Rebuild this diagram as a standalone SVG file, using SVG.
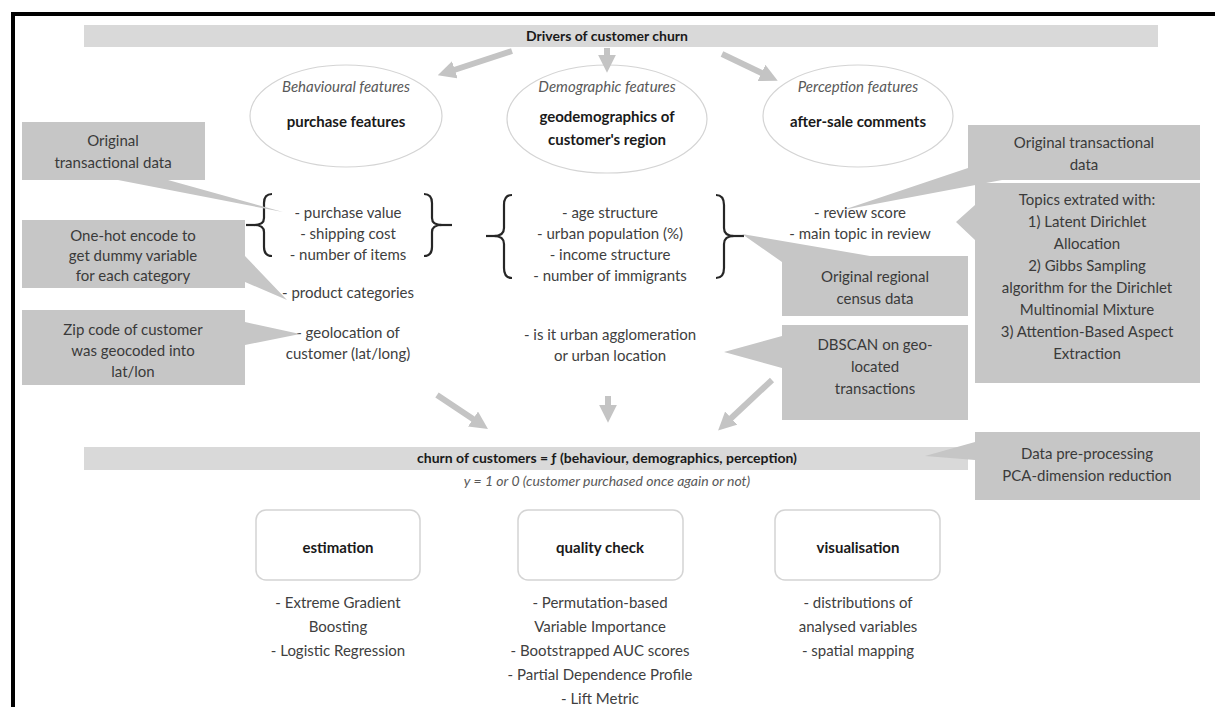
<svg xmlns="http://www.w3.org/2000/svg" width="1215" height="707" viewBox="0 0 1215 707">
<defs>
<style>
text{font-family:Lato,"Liberation Sans",sans-serif;font-size:15px;fill:#404040;text-anchor:middle}
.b{font-weight:bold;fill:#1a1a1a}
.i{font-style:italic;fill:#595959}
.co{fill:#c6c6c6}
.co text{fill:#3a3a3a}
.ban{fill:#d9d9d9}
.ell{fill:#fff;stroke:#d4d4d4;stroke-width:1.2}
.rb{fill:#fff;stroke:#d4d4d4;stroke-width:1.5}
.arr{stroke:#c4c4c4;stroke-width:6;fill:none;marker-end:url(#ah)}
.br{fill:none;stroke:#262626;stroke-width:2.2}
</style>
<marker id="ah" markerWidth="3" markerHeight="3" refX="1.2" refY="1.5" orient="auto" markerUnits="strokeWidth">
<path d="M0,0 L3,1.5 L0,3 Z" fill="#c4c4c4"/>
</marker>
</defs>
<rect width="1215" height="707" fill="#fff"/>
<path d="M13,707 V14 H1215" fill="none" stroke="#000" stroke-width="4"/>

<g id="top-banner">
<rect class="ban" x="84" y="25" width="1074" height="22"/>
<text class="b" x="607" y="41" style="font-size:14px">Drivers of customer churn</text>
</g>

<g id="behavioural">
<ellipse class="ell" cx="346" cy="116" rx="96" ry="51"/>
<text class="i" x="346" y="92">Behavioural features</text>
<text class="b" x="346" y="127">purchase features</text>
</g>
<g id="demographic">
<ellipse class="ell" cx="607" cy="119" rx="100" ry="54"/>
<text class="i" x="607" y="92">Demographic features</text>
<text class="b" x="607" y="122">geodemographics of</text>
<text class="b" x="607" y="145">customer's region</text>
</g>
<g id="perception">
<ellipse class="ell" cx="858" cy="116" rx="95" ry="51"/>
<text class="i" x="858" y="92">Perception features</text>
<text class="b" x="858" y="127">after-sale comments</text>
</g>

<g id="connectors">
<line class="arr" x1="512" y1="51" x2="448" y2="72"/>
<line class="arr" x1="607" y1="48" x2="607" y2="62"/>
<line class="arr" x1="722" y1="54" x2="768" y2="76"/>
<line class="arr" x1="437" y1="395" x2="479" y2="423"/>
<line class="arr" x1="608" y1="396" x2="608" y2="412"/>
<line class="arr" x1="772" y1="380" x2="726" y2="423"/>
</g>

<g id="behavioural-list">
<path class="br" d="M272,194 Q264,194 264,203 V218 Q264,225 254,225 Q264,225 264,232 V247 Q264,256 272,256"/>
<line x1="246" y1="225" x2="256" y2="225" stroke="#262626" stroke-width="2.2"/>
<path class="br" d="M424,194 Q432,194 432,203 V218 Q432,225 442,225 Q432,225 432,232 V247 Q432,256 424,256"/>
<line x1="440" y1="225" x2="452" y2="225" stroke="#262626" stroke-width="2.2"/>
<text x="348" y="218">- purchase value</text>
<text x="348" y="239">- shipping cost</text>
<text x="348" y="260">- number of items</text>
<text x="348" y="298">- product categories</text>
<text x="348" y="338">- geolocation of</text>
<text x="348" y="359">customer (lat/long)</text>
</g>

<g id="demographic-list">
<path class="br" d="M512,195 Q504,195 504,205 V228 Q504,236 494,236 Q504,236 504,244 V268 Q504,278 512,278"/>
<line x1="486" y1="236" x2="496" y2="236" stroke="#262626" stroke-width="2.2"/>
<path class="br" d="M716,195 Q724,195 724,205 V228 Q724,236 734,236 Q724,236 724,244 V268 Q724,278 716,278"/>
<line x1="732" y1="236" x2="744" y2="236" stroke="#262626" stroke-width="2.2"/>
<text x="610" y="218">- age structure</text>
<text x="610" y="239">- urban population (%)</text>
<text x="610" y="260">- income structure</text>
<text x="610" y="281">- number of immigrants</text>
<text x="610" y="340">- is it urban agglomeration</text>
<text x="610" y="361">or urban location</text>
</g>

<g id="perception-list">
<text x="860" y="218">- review score</text>
<text x="860" y="239">- main topic in review</text>
</g>

<g id="callout-orig-trans-left" class="co">
<path d="M22,122 H205 V180 H168 L283,212 L118,180 H22 Z"/>
<text x="113" y="146">Original</text>
<text x="113" y="168">transactional data</text>
</g>
<g id="callout-onehot" class="co">
<path d="M22,220 H245 V256 L287,300 L245,282 V288 H22 Z"/>
<text x="133" y="241">One-hot encode to</text>
<text x="133" y="261">get dummy variable</text>
<text x="133" y="281">for each category</text>
</g>
<g id="callout-zip" class="co">
<path d="M22,310 H245 V322 L300,334 L245,345 V385 H22 Z"/>
<text x="133" y="335">Zip code of customer</text>
<text x="133" y="356">was geocoded into</text>
<text x="133" y="377">lat/lon</text>
</g>
<g id="callout-orig-trans-right" class="co">
<path d="M968,125 H1200 V180 H1002 L843,210 L968,168 Z"/>
<text x="1084" y="148">Original transactional</text>
<text x="1084" y="170">data</text>
</g>
<g id="callout-topics" class="co">
<path d="M975,183 H1200 V383 H975 V240 L956,222 L975,205 Z"/>
<text x="1087" y="205">Topics extrated with:</text>
<text x="1087" y="227">1) Latent Dirichlet</text>
<text x="1087" y="249">Allocation</text>
<text x="1087" y="271">2) Gibbs Sampling</text>
<text x="1087" y="293">algorithm for the Dirichlet</text>
<text x="1087" y="315">Multinomial Mixture</text>
<text x="1087" y="337">3) Attention-Based Aspect</text>
<text x="1087" y="359">Extraction</text>
</g>
<g id="callout-census" class="co">
<path d="M742,234 L870,256 H968 V316 H782 V262 Z"/>
<text x="875" y="282">Original regional</text>
<text x="875" y="304">census data</text>
</g>
<g id="callout-dbscan" class="co">
<path d="M782,325 H968 V420 H782 V368 L724,352 L782,336 Z"/>
<text x="875" y="350">DBSCAN on geo-</text>
<text x="875" y="372">located</text>
<text x="875" y="394">transactions</text>
</g>

<g id="churn-banner">
<rect class="ban" x="84" y="447" width="884" height="23"/>
<text class="b" x="607" y="463" style="font-size:14px">churn of customers = ƒ (behaviour, demographics, perception)</text>
<text class="i" x="607" y="486" style="font-size:14px">y = 1 or 0 (customer purchased once again or not)</text>
</g>
<g id="callout-pca" class="co">
<path d="M975,432 H1200 V500 H975 V460 L925,456 L975,442 Z"/>
<text x="1087" y="459">Data pre-processing</text>
<text x="1087" y="481">PCA-dimension reduction</text>
</g>

<g id="estimation">
<rect class="rb" x="256" y="510" width="164" height="70" rx="10"/>
<text class="b" x="338" y="553">estimation</text>
<text x="338" y="608">- Extreme Gradient</text>
<text x="338" y="632">Boosting</text>
<text x="338" y="656">- Logistic Regression</text>
</g>
<g id="quality-check">
<rect class="rb" x="518" y="510" width="165" height="70" rx="10"/>
<text class="b" x="600" y="553">quality check</text>
<text x="600" y="608">- Permutation-based</text>
<text x="600" y="632">Variable Importance</text>
<text x="600" y="656">- Bootstrapped AUC scores</text>
<text x="600" y="680">- Partial Dependence Profile</text>
<text x="600" y="704">- Lift Metric</text>
</g>
<g id="visualisation">
<rect class="rb" x="775" y="510" width="165" height="70" rx="10"/>
<text class="b" x="858" y="553">visualisation</text>
<text x="858" y="608">- distributions of</text>
<text x="858" y="632">analysed variables</text>
<text x="858" y="656">- spatial mapping</text>
</g>
</svg>
